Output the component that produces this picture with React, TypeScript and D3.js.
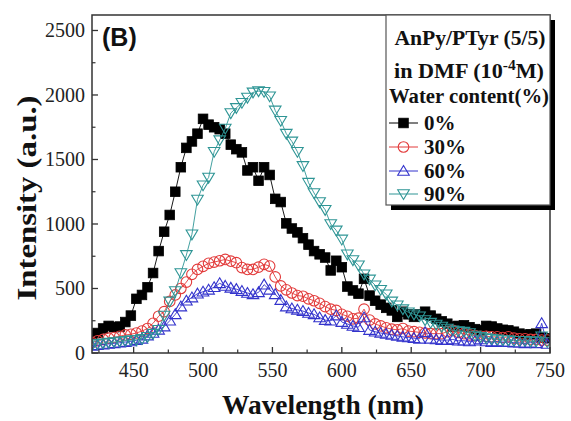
import React from "react";
import * as d3 from "d3";

const wavelengths = [
  420, 424, 428, 432, 436, 440, 444, 448, 452, 456,
  460, 464, 468, 472, 476, 480, 484, 488, 492, 496,
  500, 504, 508, 512, 516, 520, 524, 528, 532, 536,
  540, 544, 548, 552, 556, 560, 564, 568, 572, 576,
  580, 584, 588, 592, 596, 600, 604, 608, 612, 616,
  620, 624, 628, 632, 636, 640, 644, 648, 652, 656,
  660, 664, 668, 672, 676, 680, 684, 688, 692, 696,
  700, 704, 708, 712, 716, 720, 724, 728, 732, 736,
  740, 744, 748,
];

const water0 = [
  140, 155, 190, 210, 200, 205, 240, 290, 420, 450,
  510, 620, 790, 940, 1070, 1250, 1440, 1590, 1640, 1700,
  1815, 1770, 1750, 1735, 1700, 1615, 1580, 1555, 1415, 1440,
  1335, 1440, 1380, 1195, 1170, 1005, 965, 935, 890, 840,
  790, 765, 740, 640, 715, 665, 515, 485, 460, 575,
  445, 405, 375, 350, 330, 280, 320, 300, 280, 300,
  320, 290, 265, 245, 227, 205, 210, 214, 200, 185,
  176, 210, 205, 190, 180, 175, 165, 150, 140, 145,
  150, 120, 115,
];

const water30 = [
  80, 95, 105, 115, 120, 130, 140, 145, 155, 170,
  190, 230, 285, 320, 400, 450, 500, 550, 610, 648,
  672, 695, 705, 715, 725, 712, 700, 662, 648, 648,
  665, 687, 674, 590, 520, 490, 465, 445, 440, 420,
  405, 385, 360, 340, 330, 300, 285, 265, 270, 340,
  255, 225, 210, 195, 185, 180, 190, 170, 165, 160,
  155, 150, 150, 150, 165, 175, 160, 150, 140, 135,
  130, 130, 125, 125, 120, 125, 115, 110, 110, 105,
  105, 100, 100,
];

const water60 = [
  55, 60, 65, 70, 75, 80, 85, 90, 100, 110,
  135, 155, 180, 205, 250, 300, 360, 405, 430, 460,
  475, 490, 510, 540, 520, 505, 495, 480, 465, 455,
  470, 530, 490, 455, 410, 360, 345, 335, 325, 310,
  300, 275, 255, 250, 290, 240, 225, 210, 200, 275,
  178, 165, 155, 148, 140, 132, 125, 120, 115, 110,
  160, 110, 105, 100, 100, 105, 95, 95, 90, 95,
  105, 90, 85, 90, 85, 85, 80, 80, 75, 80,
  75, 230, 70,
];

const water90 = [
  60, 70, 75, 80, 85, 90, 95, 100, 100, 110,
  125, 150, 180, 290, 400, 480, 620, 760, 920, 1190,
  1300, 1360, 1560, 1650, 1740, 1860, 1900, 1940, 1980, 2020,
  2030, 2025, 1990, 1880, 1800, 1700, 1640, 1560, 1450, 1320,
  1240, 1170, 1110, 1000, 950, 880, 765, 720, 680, 610,
  570, 525, 490, 455, 400, 370, 340, 315, 300, 285,
  255, 235, 220, 205, 190, 175, 170, 165, 155, 135,
  125, 115, 110, 105, 100, 100, 95, 95, 95, 90,
  90, 130, 85,
];

const xTicks = [450, 500, 550, 600, 650, 700, 750];
const xMinorTicks = [425, 475, 525, 575, 625, 675, 725];
const yTicks = [0, 500, 1000, 1500, 2000, 2500];
const yMinorTicks = [250, 750, 1250, 1750, 2250];

const legendLabels = ["0%", "30%", "60%", "90%"];
const seriesColors = ["#000000", "#e23a3a", "#3333cc", "#2e9595"];
const seriesShapes = ["square", "circle", "triangleUp", "triangleDown"];
const seriesValues = [water0, water30, water60, water90];

const W = 571;
const H = 421;
const left = 92;
const right = 550;
const top = 15;
const bottom = 353;

const serif = "Times New Roman, Liberation Serif, Tinos, Nimbus Roman, Times, serif";

function Marker({ shape, cx, cy, color }: { shape: string; cx: number; cy: number; color: string }) {
  if (shape === "square") {
    return <rect x={cx - 4.8} y={cy - 4.8} width={9.6} height={9.6} fill={color} stroke={color} strokeWidth={0.8} />;
  }
  if (shape === "circle") {
    return <circle cx={cx} cy={cy} r={5.3} fill="none" stroke={color} strokeWidth={1.1} />;
  }
  if (shape === "triangleUp") {
    const p = `M${cx},${cy - 5.5}L${cx + 5.8},${cy + 4.3}L${cx - 5.8},${cy + 4.3}Z`;
    return <path d={p} fill="none" stroke={color} strokeWidth={1.1} />;
  }
  const p = `M${cx - 5.8},${cy - 4.3}L${cx + 5.8},${cy - 4.3}L${cx},${cy + 5.5}Z`;
  return <path d={p} fill="none" stroke={color} strokeWidth={1.1} />;
}

export default function App() {
  const x = d3.scaleLinear().domain([420, 750]).range([left, right]);
  const y = d3.scaleLinear().domain([0, 2620]).range([bottom, top]);

  const line = d3
    .line<[number, number]>()
    .x((d) => x(d[0]))
    .y((d) => y(d[1]));

  const series = seriesValues.map((vals) => wavelengths.map((w, i) => [w, vals[i]] as [number, number]));

  const legendY = [123, 147, 171, 194];

  return (
    <svg
      width={W}
      height={H}
      viewBox={`0 0 ${W} ${H}`}
      style={{ position: "absolute", left: 0, top: 0, background: "#fff" }}
    >
      <rect x={0} y={0} width={W} height={H} fill="#fff" />
      <defs>
        <clipPath id="plotClip">
          <rect x={left} y={top} width={right - left} height={bottom - top} />
        </clipPath>
      </defs>

      {/* data */}
      <g clipPath="url(#plotClip)">
        {series.map((pts, si) => (
          <g key={si}>
            <path d={line(pts) || ""} fill="none" stroke={seriesColors[si]} strokeWidth={0.9} />
            {pts.map((d, i) => (
              <Marker key={i} shape={seriesShapes[si]} cx={x(d[0])} cy={y(d[1])} color={seriesColors[si]} />
            ))}
          </g>
        ))}
      </g>

      {/* frame */}
      <rect x={left} y={top} width={right - left} height={bottom - top} fill="none" stroke="#333" strokeWidth={1.5} />

      {/* x ticks */}
      {xTicks.map((t) => (
        <g key={t}>
          <line x1={x(t)} x2={x(t)} y1={bottom} y2={bottom - 6} stroke="#333" strokeWidth={1.3} />
          <text x={x(t)} y={377} textAnchor="middle" fontFamily={serif} fontSize={20} fill="#222">
            {t}
          </text>
        </g>
      ))}
      {xMinorTicks.map((t) => (
        <line key={t} x1={x(t)} x2={x(t)} y1={bottom} y2={bottom - 3.5} stroke="#333" strokeWidth={1.2} />
      ))}

      {/* y ticks */}
      {yTicks.map((t) => (
        <g key={t}>
          <line x1={left} x2={left + 6} y1={y(t)} y2={y(t)} stroke="#333" strokeWidth={1.3} />
          <text x={85} y={y(t) + 7} textAnchor="end" fontFamily={serif} fontSize={20} fill="#222">
            {t}
          </text>
        </g>
      ))}
      {yMinorTicks.map((t) => (
        <line key={t} x1={left} x2={left + 3.5} y1={y(t)} y2={y(t)} stroke="#333" strokeWidth={1.2} />
      ))}

      {/* axis titles */}
      <text
        x={323}
        y={414}
        textAnchor="middle"
        fontFamily={serif}
        fontWeight="bold"
        fontSize={27}
        textLength={202}
        lengthAdjust="spacingAndGlyphs"
        fill="#111"
      >
        Wavelength (nm)
      </text>
      <text
        transform="translate(36,198) rotate(-90)"
        textAnchor="middle"
        fontFamily={serif}
        fontWeight="bold"
        fontSize={27}
        textLength={205}
        lengthAdjust="spacingAndGlyphs"
        fill="#111"
      >
        Intensity (a.u.)
      </text>

      {/* panel label */}
      <text x={102} y={46} fontFamily="Arial, Liberation Sans, Helvetica, sans-serif" fontWeight="bold" fontSize={25} fill="#111">
        (B)
      </text>

      {/* legend */}
      <rect x={391} y={20} width={164} height={190} fill="#000" />
      <rect x={386} y={15} width={164} height={190} fill="#fff" stroke="#555" strokeWidth={1.2} />
      <text
        x={470}
        y={45}
        textAnchor="middle"
        fontFamily={serif}
        fontWeight="bold"
        fontSize={20}
        textLength={151}
        lengthAdjust="spacingAndGlyphs"
        fill="#111"
      >
        AnPy/PTyr (5/5)
      </text>
      <text
        x={469}
        y={78}
        textAnchor="middle"
        fontFamily={serif}
        fontWeight="bold"
        fontSize={20}
        textLength={150}
        lengthAdjust="spacingAndGlyphs"
        fill="#111"
      >
        in DMF (10
        <tspan dy={-8} fontSize={14}>
          -4
        </tspan>
        <tspan dy={8}>M)</tspan>
      </text>
      <text
        x={469}
        y={103}
        textAnchor="middle"
        fontFamily={serif}
        fontWeight="bold"
        fontSize={20}
        textLength={160}
        lengthAdjust="spacingAndGlyphs"
        fill="#111"
      >
        Water content(%)
      </text>
      {legendLabels.map((lab, i) => (
        <g key={lab}>
          <line x1={389} x2={418} y1={legendY[i]} y2={legendY[i]} stroke={seriesColors[i]} strokeWidth={1} />
          <Marker shape={seriesShapes[i]} cx={403.5} cy={legendY[i]} color={seriesColors[i]} />
          <text x={424} y={legendY[i] + 7} fontFamily={serif} fontWeight="bold" fontSize={21} fill="#111">
            {lab}
          </text>
        </g>
      ))}
    </svg>
  );
}
